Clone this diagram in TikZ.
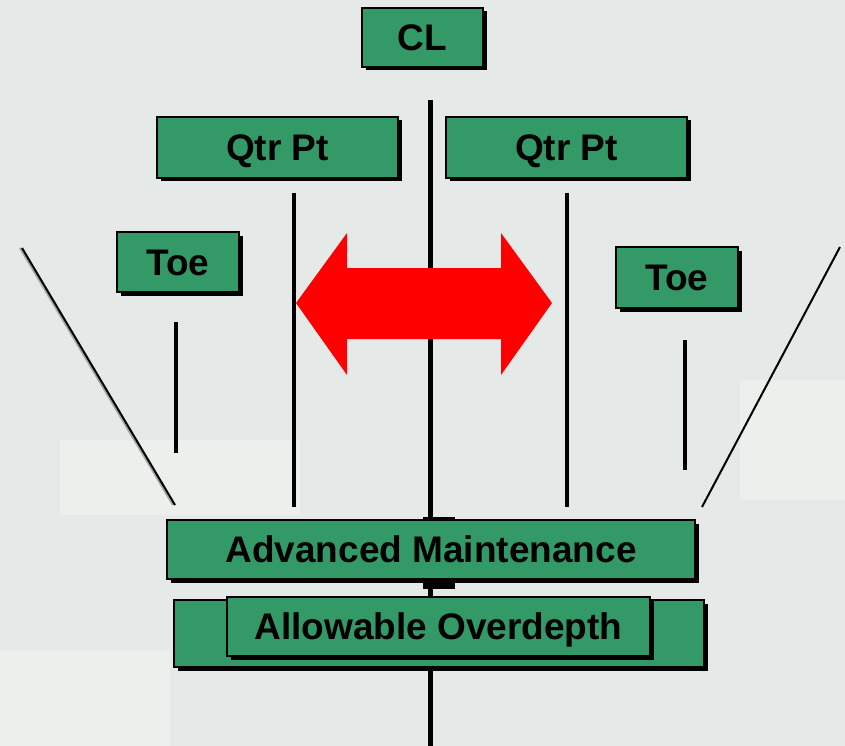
\documentclass[tikz,border=0pt]{standalone}
\usepackage{fontspec}
\setmainfont{Liberation Sans}
\usetikzlibrary{shadows}
\definecolor{bgcol}{RGB}{229,233,232}
\definecolor{bgpatch}{RGB}{236,239,236}
\definecolor{boxgreen}{RGB}{51,153,102}
\definecolor{arrowred}{RGB}{255,0,0}
\tikzset{
  label box/.style={draw=black, line width=2pt, fill=boxgreen, inner sep=0pt,
    font=\fontsize{37}{40}\selectfont\bfseries, text height=26.5pt, text depth=0pt,
    drop shadow={shadow xshift=3.5pt, shadow yshift=-3.5pt, fill=black, opacity=1}},
  marker line/.style={line width=4.5pt, black},
  slope line/.style={line width=2pt, black},
}
\begin{document}
\begin{tikzpicture}[x=1pt, y=-1pt]
  % canvas
  \fill[bgcol] (0,0) rectangle (845,746);
  \useasboundingbox (0,0) rectangle (845,746);
  % faint lighter patches of the backdrop
  \fill[bgpatch] (60,440) rectangle (300,515);
  \fill[bgpatch] (740,380) rectangle (845,500);
  \fill[bgpatch] (0,650) rectangle (170,746);

  % side slopes
  \coordinate (slopeLtop) at (22,248);
  \coordinate (slopeLbot) at (175,505);
  \coordinate (slopeRtop) at (840,247);
  \coordinate (slopeRbot) at (702,507);
  \draw[line width=2pt, gray!70] ([xshift=-2pt]slopeLtop) -- ([xshift=-2pt]slopeLbot);
  \draw[slope line] (slopeLtop) -- (slopeLbot);
  \draw[slope line] (slopeRtop) -- (slopeRbot);

  % toe markers
  \coordinate (toeLtop) at (176,322);
  \coordinate (toeLbot) at (176,453);
  \coordinate (toeRtop) at (685,340);
  \coordinate (toeRbot) at (685,470);
  \draw[marker line] (toeLtop) -- (toeLbot);
  \draw[marker line] (toeRtop) -- (toeRbot);

  % quarter point markers
  \coordinate (qLtop) at (294,193);
  \coordinate (qLbot) at (294,507);
  \coordinate (qRtop) at (567,193);
  \coordinate (qRbot) at (567,507);
  \draw[marker line] (qLtop) -- (qLbot);
  \draw[marker line] (qRtop) -- (qRbot);

  % centre line
  \coordinate (clTop) at (430.5,100);
  \coordinate (clBot) at (430.5,746);
  \draw[marker line] (clTop) -- (clBot);
  \fill[black] (423,517) rectangle (455,589);

  % double-headed red arrow
  \fill[arrowred] (296,303) -- (347,233) -- (347,268) -- (501,268) -- (501,233)
    -- (552,303) -- (501,375) -- (501,339) -- (347,339) -- (347,375) -- cycle;

  % labels
  \node[label box, minimum width=121pt, minimum height=59pt] (cl) at (422.5,37.5) {CL};
  \node[label box, minimum width=241pt, minimum height=61pt] (qtrL) at (277.5,147.5) {Qtr Pt};
  \node[label box, minimum width=241pt, minimum height=61pt] (qtrR) at (566.5,147.5) {Qtr Pt};
  \node[label box, minimum width=122pt, minimum height=60pt] (toeL) at (178,262) {Toe};
  \node[label box, minimum width=122pt, minimum height=61pt] (toeR) at (677,277.5) {Toe};
  \node[label box, minimum width=530pt, minimum height=67pt] (overOuter) at (439,633.5) {};
  \node[label box, minimum width=423pt, minimum height=59pt] (overInner) at (438.5,626.5) {Allowable Overdepth};
  \node[label box, minimum width=528pt, minimum height=59pt] (advMaint) at (431,549.5) {Advanced Maintenance};
\end{tikzpicture}
\end{document}
